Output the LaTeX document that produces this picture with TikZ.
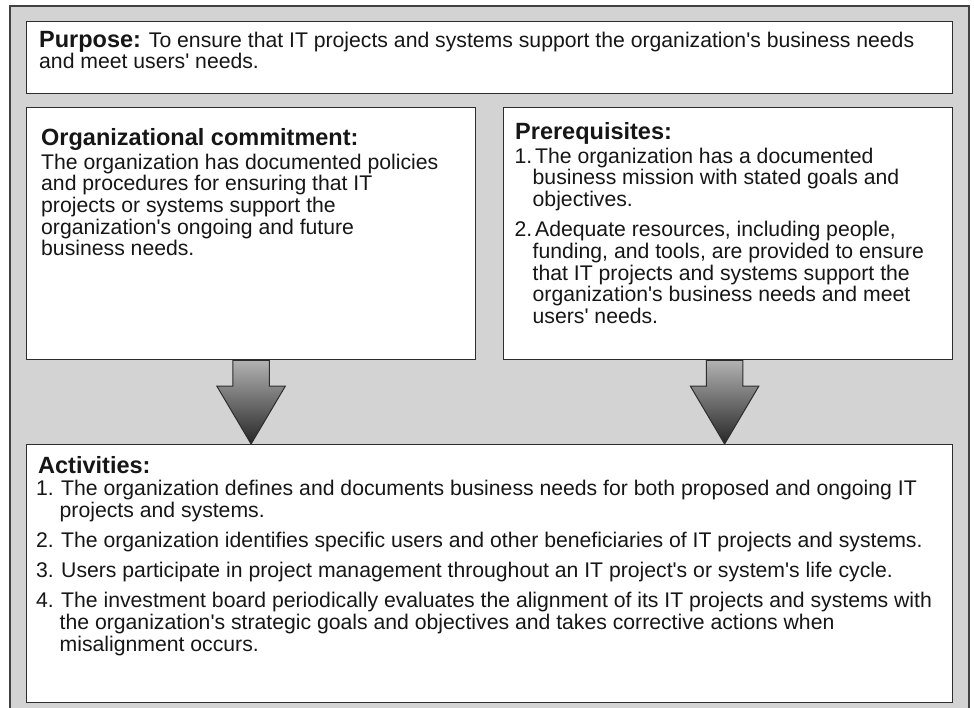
\documentclass[tikz,border=0pt]{standalone}
\usepackage{fontspec}
\setmainfont{Liberation Sans}[Ligatures=TeXOff]
\usetikzlibrary{calc}
\definecolor{bggray}{RGB}{211,211,211}
\definecolor{linegray}{RGB}{45,45,45}
\definecolor{txt}{RGB}{22,22,22}
\newcommand{\bodyfont}{\fontsize{21.2}{21.7}\selectfont}
\newcommand{\headfont}{\fontsize{23.5}{24}\selectfont\bfseries}
\tikzset{
  panel/.style={draw=linegray, line width=1.2pt, fill=white, rectangle, inner sep=0pt, anchor=north west},
  frame/.style={draw=linegray!90, line width=1.6pt, fill=bggray, rectangle, inner sep=0pt, anchor=north west},
  ln/.style={anchor=base west, inner sep=0pt, text=txt, font=\bodyfont},
  hd/.style={anchor=base west, inner sep=0pt, text=txt, font=\headfont},
  bigarrow/.style={draw=linegray, line width=1pt, line join=miter, top color=black!30, bottom color=black!85}
}
\begin{document}
\begin{tikzpicture}[x=1pt,y=-1pt]
\useasboundingbox (0,0) rectangle (974,707);
\node[frame, minimum width=959, minimum height=706] (outer) at (9,5) {};
\node[panel, minimum width=926, minimum height=72] (purpose) at (26,21) {};
\node[panel, minimum width=449, minimum height=252] (org) at (26,107) {};
\node[panel, minimum width=449, minimum height=252] (pre) at (503,107) {};
\node[panel, minimum width=926, minimum height=258] (act) at (26,444) {};

% arrows
\coordinate (a1top) at (org.south);
\coordinate (a1tip) at (a1top |- act.north);
\coordinate (a2top) at ([xshift=-3.5pt]pre.south);
\coordinate (a2tip) at (a2top |- act.north);
\path[bigarrow] ([xshift=-18.3pt]a1top) -- ([xshift=-18.3pt,yshift=-26pt]a1top) -- ([xshift=-34.2pt,yshift=-26pt]a1top) -- (a1tip) -- ([xshift=34.2pt,yshift=-26pt]a1top) -- ([xshift=18.3pt,yshift=-26pt]a1top) -- ([xshift=18.3pt]a1top) -- cycle;
\path[bigarrow] ([xshift=-18.3pt]a2top) -- ([xshift=-18.3pt,yshift=-26pt]a2top) -- ([xshift=-34.2pt,yshift=-26pt]a2top) -- (a2tip) -- ([xshift=34.2pt,yshift=-26pt]a2top) -- ([xshift=18.3pt,yshift=-26pt]a2top) -- ([xshift=18.3pt]a2top) -- cycle;
\draw[linegray, line width=1.2pt] ([xshift=-18.3pt]a1top) -- ([xshift=18.3pt]a1top);
\draw[linegray, line width=1.2pt] ([xshift=-18.3pt]a2top) -- ([xshift=18.3pt]a2top);

% purpose
\node[ln] (p1) at (39,47) {{\headfont Purpose:} To ensure that IT projects and systems support the organization's business needs};
\node[ln] (p2) at (39,68.5) {and meet users' needs.};

% organizational commitment
\node[hd] (oh) at (41,145) {Organizational commitment:};
\node[ln] (o1) at (41,169) {The organization has documented policies};
\node[ln] (o2) at (41,190.7) {and procedures for ensuring that IT};
\node[ln] (o3) at (41,212.4) {projects or systems support the};
\node[ln] (o4) at (41,234.1) {organization's ongoing and future};
\node[ln] (o5) at (41,255.8) {business needs.};

% prerequisites
\node[hd] (rh) at (515,139) {Prerequisites:};
\node[ln] (rn1) at (514.5,163) {1.};
\node[ln] (r1a) at (535,163) {The organization has a documented};
\node[ln] (r1b) at (532.5,184.7) {business mission with stated goals and};
\node[ln] (r1c) at (532.5,206.4) {objectives.};
\node[ln] (rn2) at (514.5,236.6) {2.};
\node[ln] (r2a) at (535,236.6) {Adequate resources, including people,};
\node[ln] (r2b) at (532.5,258.3) {funding, and tools, are provided to ensure};
\node[ln] (r2c) at (532.5,280) {that IT projects and systems support the};
\node[ln] (r2d) at (532.5,301.7) {organization's business needs and meet};
\node[ln] (r2e) at (532.5,323.4) {users' needs.};

% activities
\node[hd] (ah) at (38,473) {Activities:};
\node[ln] (an1) at (36,495.5) {1.};
\node[ln] (a1a) at (61,495.5) {The organization defines and documents business needs for both proposed and ongoing IT};
\node[ln] (a1b) at (59.5,517.2) {projects and systems.};
\node[ln] (an2) at (36,547.4) {2.};
\node[ln] (a2a) at (61,547.4) {The organization identifies specific users and other beneficiaries of IT projects and systems.};
\node[ln] (an3) at (36,577.6) {3.};
\node[ln] (a3a) at (61,577.6) {Users participate in project management throughout an IT project's or system's life cycle.};
\node[ln] (an4) at (36,607.8) {4.};
\node[ln] (a4a) at (61,607.8) {The investment board periodically evaluates the alignment of its IT projects and systems with};
\node[ln] (a4b) at (59.5,629.5) {the organization's strategic goals and objectives and takes corrective actions when};
\node[ln] (a4c) at (59.5,651.2) {misalignment occurs.};
\end{tikzpicture}
\end{document}
